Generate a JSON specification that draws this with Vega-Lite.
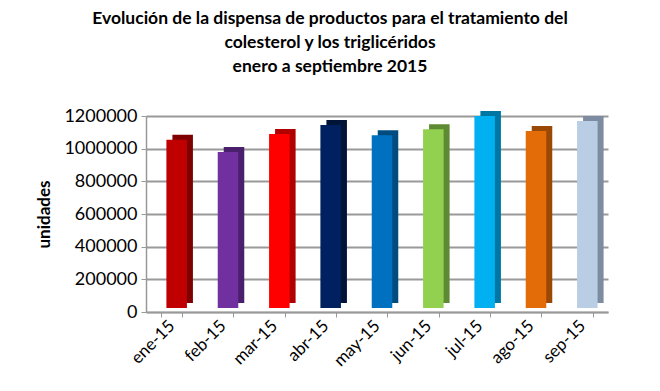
{
  "$schema": "https://vega.github.io/schema/vega-lite/v6.json",
  "width": 462,
  "height": 196,
  "autosize": "none",
  "padding": {"left": 146, "top": 116, "right": 52, "bottom": 79},
  "background": "white",
  "title": {
    "text": ["Evolución de la dispensa de productos para el tratamiento del", "colesterol y los triglicéridos", "enero  a septiembre 2015"],
    "font": "Lato",
    "fontSize": 17.5,
    "fontWeight": "bold",
    "color": "#000000",
    "lineHeight": 24,
    "anchor": "middle",
    "dx": -47,
    "offset": 32
  },
  "data": {
    "values": [
      {"mes": "ene-15", "unidades": 1030000},
      {"mes": "feb-15", "unidades": 955000},
      {"mes": "mar-15", "unidades": 1065000},
      {"mes": "abr-15", "unidades": 1120000},
      {"mes": "may-15", "unidades": 1058000},
      {"mes": "jun-15", "unidades": 1095000},
      {"mes": "jul-15", "unidades": 1175000},
      {"mes": "ago-15", "unidades": 1083000},
      {"mes": "sep-15", "unidades": 1145000}
    ]
  },
  "encoding": {
    "x": {
      "field": "mes",
      "type": "nominal",
      "sort": null,
      "scale": {"paddingInner": 0.6, "paddingOuter": 0.3},
      "axis": {
        "title": null,
        "labelAngle": -45,
        "labelAlign": "right",
        "labelBaseline": "middle",
        "labelFont": "Lato",
        "labelFontSize": 17,
        "labelColor": "#000000",
        "labelPadding": 6,
        "domainColor": "#999999",
        "domainWidth": 1.5,
        "tickColor": "#999999",
        "tickBand": "extent",
        "tickSize": 5
      }
    },
    "y": {
      "field": "unidades",
      "type": "quantitative",
      "scale": {"domain": [0, 1200000]},
      "axis": {
        "title": "unidades",
        "titleFont": "Lato",
        "titleFontSize": 17,
        "titleFontWeight": "bold",
        "titleColor": "#000000",
        "titlePadding": 10,
        "values": [0, 200000, 400000, 600000, 800000, 1000000, 1200000],
        "format": "d",
        "labelFont": "Lato",
        "labelFontSize": 18,
        "labelColor": "#000000",
        "labelPadding": 4,
        "tickSize": 5,
        "tickColor": "#999999",
        "domainColor": "#999999",
        "domainWidth": 1.5,
        "gridColor": "#999999",
        "gridWidth": 2
      }
    }
  },
  "layer": [
    {
      "mark": {"type": "bar", "xOffset": 11, "yOffset": -9},
      "encoding": {
        "color": {
          "field": "mes",
          "type": "nominal",
          "legend": null,
          "scale": {
            "domain": ["ene-15", "feb-15", "mar-15", "abr-15", "may-15", "jun-15", "jul-15", "ago-15", "sep-15"],
            "range": ["#7f0000", "#4a1f6b", "#b00000", "#001438", "#004b80", "#5e8a33", "#0077a3", "#9a4806", "#7d8ca0"]
          }
        }
      }
    },
    {
      "mark": {"type": "bar", "xOffset": 5, "yOffset": -4},
      "encoding": {
        "color": {
          "field": "mes",
          "type": "nominal",
          "legend": null,
          "scale": {
            "domain": ["ene-15", "feb-15", "mar-15", "abr-15", "may-15", "jun-15", "jul-15", "ago-15", "sep-15"],
            "range": ["#C00000", "#7030A0", "#FF0000", "#002060", "#0070C0", "#92D050", "#00B0F0", "#E36C09", "#B9CDE5"]
          }
        }
      }
    }
  ],
  "resolve": {"scale": {"color": "independent"}},
  "config": {"view": {"stroke": null}}
}
